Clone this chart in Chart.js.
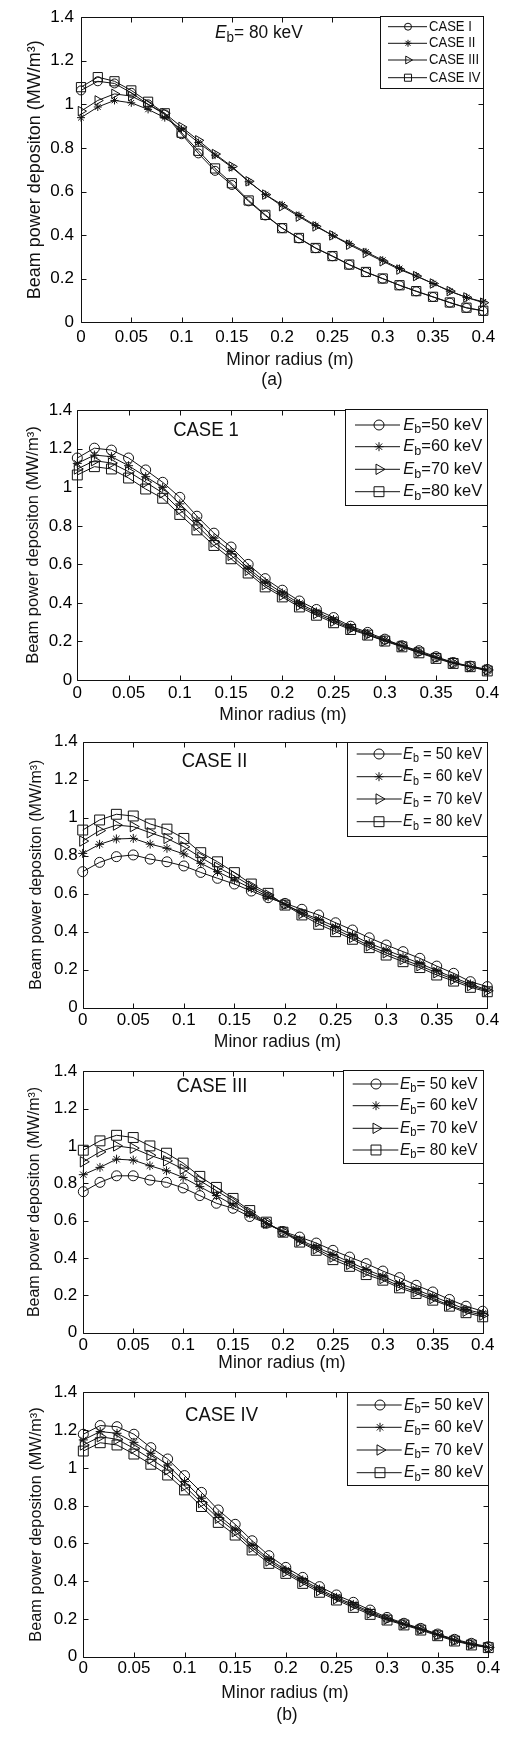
<!DOCTYPE html>
<html><head><meta charset="utf-8">
<script src="https://cdn.jsdelivr.net/npm/chart.js@4.4.0/dist/chart.umd.min.js"></script>
<style>
html,body{margin:0;padding:0;background:#fff;}
body{width:522px;height:1741px;position:relative;overflow:hidden;}
canvas{position:absolute;left:0;}
</style></head><body>
<canvas id="pa"></canvas>
<canvas id="p1"></canvas>
<canvas id="p2"></canvas>
<canvas id="p3"></canvas>
<canvas id="p4"></canvas>
<script>
// ---------- DATA ----------
const radius = [0, 0.0167, 0.0333, 0.05, 0.0667, 0.0833, 0.1, 0.1167, 0.1333, 0.15, 0.1667, 0.1833, 0.2,
  0.2167, 0.2333, 0.25, 0.2667, 0.2833, 0.3, 0.3167, 0.3333, 0.35, 0.3667, 0.3833, 0.4];

// (a) Eb = 80 keV, four cases
const caseI_80   = [1.064,1.106,1.096,1.053,1.000,0.954,0.863,0.775,0.695,0.630,0.555,0.490,0.432,0.385,0.340,0.303,0.264,0.230,0.200,0.170,0.142,0.116,0.090,0.066,0.052];
const caseII_80  = [0.939,0.988,1.018,1.007,0.977,0.939,0.886,0.825,0.767,0.711,0.645,0.586,0.539,0.490,0.444,0.399,0.361,0.323,0.285,0.247,0.213,0.178,0.143,0.114,0.094];
const caseIII_80 = [0.969,1.018,1.048,1.038,1.000,0.959,0.896,0.835,0.772,0.715,0.647,0.586,0.533,0.485,0.440,0.399,0.356,0.318,0.280,0.242,0.212,0.178,0.143,0.114,0.090];
const caseIV_80  = [1.079,1.125,1.106,1.064,1.012,0.959,0.870,0.787,0.706,0.638,0.559,0.493,0.432,0.387,0.341,0.304,0.265,0.231,0.201,0.170,0.143,0.117,0.091,0.067,0.053];

// (b) CASE 1
const case1_50 = [1.152,1.203,1.193,1.152,1.090,1.026,0.948,0.850,0.762,0.690,0.600,0.526,0.466,0.410,0.366,0.324,0.279,0.247,0.212,0.178,0.152,0.121,0.091,0.072,0.055];
const case1_60 = [1.124,1.167,1.159,1.112,1.055,1.000,0.914,0.828,0.736,0.667,0.581,0.509,0.452,0.397,0.353,0.314,0.272,0.241,0.207,0.178,0.147,0.117,0.090,0.069,0.052];
const case1_70 = [1.095,1.138,1.126,1.081,1.026,0.971,0.884,0.802,0.716,0.647,0.569,0.495,0.440,0.388,0.345,0.305,0.267,0.236,0.203,0.176,0.143,0.116,0.088,0.069,0.052];
const case1_80 = [1.064,1.107,1.095,1.048,0.991,0.943,0.859,0.779,0.698,0.629,0.555,0.483,0.431,0.379,0.336,0.297,0.262,0.233,0.202,0.172,0.141,0.112,0.086,0.069,0.047];

// (b) CASE II
const case2_50 = [0.716,0.765,0.795,0.804,0.782,0.768,0.746,0.712,0.681,0.651,0.614,0.579,0.549,0.518,0.488,0.447,0.409,0.368,0.330,0.295,0.260,0.219,0.181,0.137,0.111];
const case2_60 = [0.812,0.860,0.888,0.891,0.861,0.839,0.809,0.760,0.716,0.672,0.628,0.584,0.544,0.500,0.465,0.426,0.382,0.339,0.304,0.268,0.233,0.195,0.158,0.125,0.093];
const case2_70 = [0.877,0.932,0.961,0.953,0.921,0.891,0.847,0.791,0.739,0.693,0.640,0.593,0.544,0.496,0.453,0.412,0.370,0.326,0.289,0.254,0.221,0.184,0.149,0.116,0.089];
const case2_80 = [0.935,0.988,1.018,1.009,0.967,0.940,0.891,0.816,0.768,0.711,0.651,0.602,0.540,0.488,0.439,0.400,0.360,0.316,0.277,0.242,0.211,0.172,0.140,0.107,0.084];

// (b) CASE III
const case3_50 = [0.755,0.805,0.840,0.840,0.817,0.805,0.775,0.734,0.693,0.666,0.622,0.586,0.542,0.512,0.480,0.441,0.405,0.370,0.330,0.295,0.254,0.218,0.178,0.142,0.115];
const case3_60 = [0.846,0.885,0.929,0.924,0.894,0.867,0.831,0.782,0.734,0.684,0.636,0.583,0.542,0.497,0.458,0.419,0.378,0.339,0.302,0.263,0.231,0.195,0.160,0.124,0.103];
const case3_70 = [0.915,0.968,1.000,0.988,0.950,0.920,0.876,0.814,0.760,0.707,0.645,0.586,0.542,0.490,0.449,0.405,0.366,0.325,0.290,0.250,0.219,0.183,0.147,0.115,0.094];
const case3_80 = [0.977,1.027,1.057,1.045,1.000,0.961,0.908,0.837,0.778,0.719,0.654,0.592,0.538,0.485,0.441,0.391,0.355,0.311,0.281,0.240,0.210,0.174,0.142,0.107,0.085];

// (b) CASE IV
const case4_50 = [1.178,1.224,1.218,1.178,1.107,1.047,0.959,0.870,0.777,0.701,0.614,0.535,0.473,0.420,0.371,0.327,0.288,0.247,0.208,0.177,0.150,0.120,0.092,0.071,0.053];
const case4_60 = [1.148,1.192,1.183,1.135,1.077,1.015,0.927,0.839,0.750,0.676,0.591,0.517,0.459,0.406,0.358,0.314,0.277,0.238,0.203,0.173,0.147,0.118,0.088,0.067,0.049];
const case4_70 = [1.121,1.165,1.151,1.103,1.047,0.989,0.904,0.816,0.733,0.662,0.579,0.507,0.450,0.397,0.350,0.307,0.270,0.231,0.199,0.171,0.145,0.115,0.087,0.065,0.049];
const case4_80 = [1.089,1.133,1.121,1.073,1.019,0.962,0.883,0.795,0.711,0.644,0.565,0.494,0.441,0.388,0.341,0.300,0.261,0.224,0.194,0.168,0.141,0.111,0.083,0.062,0.048];

const xTickValues = [0, 0.05, 0.1, 0.15, 0.2, 0.25, 0.3, 0.35, 0.4];
const xTickLabels = ['0','0.05','0.1','0.15','0.2','0.25','0.3','0.35','0.4'];
const yTickValues = [0, 0.2, 0.4, 0.6, 0.8, 1, 1.2, 1.4];
const yTickLabels = ['0','0.2','0.4','0.6','0.8','1','1.2','1.4'];

const caseLegend = ['CASE I','CASE II','CASE III','CASE IV'];
const energyLegend = ['50 keV','60 keV','70 keV','80 keV'];
const panelTitles = ['CASE 1','CASE II','CASE III','CASE IV'];
const xAxisTitle = 'Minor radius (m)';
const yAxisTitle = 'Beam power depositon (MW/m\u00B3)';

// ---------- STYLE / LAYOUT ----------
const FONT = "'Liberation Sans', Arial, Helvetica, sans-serif";
const INK = '#111';
const W = 522;
const STYLES = [
  {ps:'circle', rot:0},
  {ps:'star', rot:0},
  {ps:'triangle', rot:90},
  {ps:'rect', rot:0}
];

function fontStr(size, italic){ return (italic?'italic ':'') + size + 'px ' + FONT; }

function drawParts(ctx, parts, x, y, align, sx){
  sx = sx || 1;
  let w = 0;
  parts.forEach(p => { ctx.font = fontStr(p.size, p.italic); p.w = ctx.measureText(p.t).width; w += p.w; });
  let cx = align === 'center' ? x - w*sx/2 : x;
  ctx.textAlign = 'left'; ctx.textBaseline = 'middle'; ctx.fillStyle = INK;
  parts.forEach(p => {
    ctx.font = fontStr(p.size, p.italic);
    ctx.save(); ctx.translate(cx, y + (p.dy||0)); ctx.scale(sx, 1);
    ctx.fillText(p.t, 0, 0); ctx.restore();
    cx += p.w * sx;
  });
}
function ebParts(size, rest){
  return [{t:'E', size:size, italic:true}, {t:'b', size:Math.round(size*0.75), dy:size*0.28}, {t:rest, size:size}];
}

function makeDeco(cfg){
  return {
    id: 'deco',
    afterDatasetsDraw(chart){
      const ctx = chart.ctx, ca = chart.chartArea, T = cfg.canvasTop;
      const xs = chart.scales.x, ys = chart.scales.y;
      ctx.save();
      ctx.strokeStyle = INK; ctx.lineWidth = 1;
      const L = Math.round(ca.left)+0.5, R = Math.round(ca.right)+0.5, Tp = Math.round(ca.top)+0.5, B = Math.round(ca.bottom)+0.5;
      ctx.beginPath();
      ctx.rect(L, Tp, R-L, B-Tp);
      xs.ticks.forEach(t => {
        const px = Math.round(xs.getPixelForValue(t.value))+0.5;
        ctx.moveTo(px, B); ctx.lineTo(px, B-5);
        ctx.moveTo(px, Tp); ctx.lineTo(px, Tp+5);
      });
      ys.ticks.forEach(t => {
        const py = Math.round(ys.getPixelForValue(t.value))+0.5;
        ctx.moveTo(L, py); ctx.lineTo(L+5, py);
        ctx.moveTo(R, py); ctx.lineTo(R-5, py);
      });
      ctx.stroke();

      // axis titles
      ctx.fillStyle = INK;
      ctx.save();
      ctx.translate(cfg.yTitle.x, (ca.top+ca.bottom)/2);
      ctx.rotate(-Math.PI/2);
      ctx.font = fontStr(cfg.yTitle.size); ctx.textAlign='center'; ctx.textBaseline='middle';
      ctx.fillText(yAxisTitle, 0, 0);
      ctx.restore();
      drawParts(ctx, [{t:xAxisTitle, size:cfg.xTitle.size}], cfg.xTitle.x, cfg.xTitle.y - T, 'center', cfg.xTitle.sx);
      if (cfg.caption) drawParts(ctx, [{t:cfg.caption.t, size:cfg.caption.size}], cfg.caption.x, cfg.caption.y - T, 'center', 1);

      // annotation
      const an = cfg.ann;
      if (an.eb) drawParts(ctx, ebParts(an.size, an.t), an.x, an.y - T, 'left', an.sx);
      else drawParts(ctx, [{t:an.t, size:an.size}], an.x, an.y - T, 'center', an.sx);

      // legend
      const lg = cfg.legend;
      ctx.fillStyle = '#fff';
      const bl = Math.round(lg.l)+0.5, br = Math.round(lg.r)+0.5, bt = Math.round(lg.t - T)+0.5, bb = Math.round(lg.b - T)+0.5;
      ctx.fillRect(bl, bt, br-bl, bb-bt);
      ctx.strokeStyle = INK; ctx.lineWidth = 1;
      ctx.strokeRect(bl, bt, br-bl, bb-bt);
      lg.rows.forEach((ry, i) => {
        const y = ry - T;
        ctx.strokeStyle = INK; ctx.lineWidth = 1;
        ctx.beginPath(); ctx.moveTo(lg.x0, y); ctx.lineTo(lg.x1, y); ctx.stroke();
        ctx.fillStyle = 'rgba(0,0,0,0)';
        Chart.helpers.drawPoint(ctx, {pointStyle: STYLES[i].ps, rotation: STYLES[i].rot, radius: lg.mr[i], borderWidth: 1}, lg.mx, y);
        if (lg.eb) drawParts(ctx, ebParts(lg.size, lg.eq + energyLegend[i]), lg.tx, y, 'left', lg.sx);
        else drawParts(ctx, [{t:caseLegend[i], size:lg.size}], lg.tx, y, 'left', lg.sx);
      });
      ctx.restore();
    }
  };
}

function ds(label, values, i, radii){
  return {
    label: label,
    data: radius.map((r, k) => ({x: r, y: values[k]})),
    borderColor: INK, borderWidth: 1, tension: 0, fill: false, clip: false,
    pointStyle: STYLES[i].ps, pointRotation: STYLES[i].rot, pointRadius: radii[i],
    pointBorderWidth: 1, pointBorderColor: INK, pointBackgroundColor: 'rgba(0,0,0,0)',
    pointHoverRadius: radii[i]
  };
}

const WY = 50, HX = 30;
function build(id, cfg, datasets){
  const cv = document.getElementById(id);
  cv.width = W; cv.height = cfg.canvasH;
  cv.style.top = cfg.canvasTop + 'px';
  cv.style.width = W + 'px'; cv.style.height = cfg.canvasH + 'px';
  const p = cfg.plot;
  new Chart(cv, {
    type: 'line',
    data: { datasets: datasets },
    options: {
      responsive: false, animation: false, devicePixelRatio: 1,
      layout: { padding: { left: p.l - WY, right: W - p.r, top: p.t - cfg.canvasTop, bottom: cfg.canvasTop + cfg.canvasH - p.b - HX } },
      plugins: { legend: {display: false}, tooltip: {enabled: false}, title: {display: false} },
      scales: {
        x: {
          type: 'linear', min: 0, max: 0.4,
          grid: {display: false, drawTicks: false}, border: {display: false},
          afterFit: s => { s.height = HX; },
          afterBuildTicks: s => { s.ticks = xTickValues.map(v => ({value: v})); },
          ticks: { autoSkip: false, maxRotation: 0, minRotation: 0, padding: cfg.xPad, color: '#000',
                   font: {family: FONT, size: 17}, callback: (v, i) => xTickLabels[i] }
        },
        y: {
          type: 'linear', min: 0, max: 1.4,
          grid: {display: false, drawTicks: false}, border: {display: false},
          afterFit: s => { s.width = WY; },
          afterBuildTicks: s => { s.ticks = yTickValues.map(v => ({value: v})); },
          ticks: { autoSkip: false, padding: cfg.yPad, color: '#000',
                   font: {family: FONT, size: 17}, callback: (v, i) => yTickLabels[i] }
        }
      }
    },
    plugins: [makeDeco(cfg)]
  });
}

const rA = [4.5, 4, 5.5, 6.5];
const rB = [5, 4.5, 6, 7];
const rLA = [3.5, 3.5, 4.5, 5];
const rLB = [5, 4.5, 6, 7];

build('pa', {
  canvasTop: 0, canvasH: 395, plot: {l:81, r:483.3, t:15.7, b:322.3}, xPad: 4.5, yPad: 7,
  yTitle: {x:35, size:18}, xTitle: {x:290, y:360, size:17.5}, caption: {t:'(a)', x:272, y:380, size:17.5},
  ann: {eb:true, t:'= 80 keV', x:215, y:33, size:18, sx:0.96},
  legend: {l:379.5, r:483.3, t:15.7, b:88, rows:[26.7,43.3,60,77.7], x0:388, x1:427, mx:408, tx:429, size:14.5, sx:0.9, mr:rLA, eb:false}
}, [ds('CASE I', caseI_80, 0, rA), ds('CASE II', caseII_80, 1, rA), ds('CASE III', caseIII_80, 2, rA), ds('CASE IV', caseIV_80, 3, rA)]);

build('p1', {
  canvasTop: 395, canvasH: 330, plot: {l:77.3, r:487.3, t:409.3, b:680}, xPad: 3, yPad: 5,
  yTitle: {x:33, size:16.5}, xTitle: {x:283, y:715, size:17.5},
  ann: {eb:false, t:panelTitles[0], x:206, y:430.7, size:21, sx:0.88},
  legend: {l:345, r:487.3, t:409.3, b:505, rows:[425,446.7,469.3,491.7], x0:355, x1:400, mx:379, tx:403.3, size:17, sx:0.97, mr:rLB, eb:true, eq:'='}
}, [ds('50', case1_50, 0, rB), ds('60', case1_60, 1, rB), ds('70', case1_70, 2, rB), ds('80', case1_80, 3, rB)]);

build('p2', {
  canvasTop: 725, canvasH: 330, plot: {l:82.7, r:487.3, t:741.7, b:1007.7}, xPad: 2, yPad: 5,
  yTitle: {x:36.7, size:16}, xTitle: {x:277.5, y:1042, size:17.5},
  ann: {eb:false, t:panelTitles[1], x:214.5, y:761.7, size:21, sx:0.88},
  legend: {l:346.7, r:487.3, t:741.7, b:836, rows:[754,776.7,799,821.7], x0:356.7, x1:401.7, mx:379, tx:403, size:16.5, sx:0.9, mr:rLB, eb:true, eq:' = '}
}, [ds('50', case2_50, 0, rB), ds('60', case2_60, 1, rB), ds('70', case2_70, 2, rB), ds('80', case2_80, 3, rB)]);

build('p3', {
  canvasTop: 1055, canvasH: 320, plot: {l:83.3, r:482.7, t:1070, b:1332.7}, xPad: 2, yPad: 6,
  yTitle: {x:35, size:16}, xTitle: {x:282, y:1363, size:17.5},
  ann: {eb:false, t:panelTitles[2], x:212, y:1086.7, size:21, sx:0.88},
  legend: {l:343.3, r:482.7, t:1070, b:1162.7, rows:[1084,1105.7,1128.3,1150], x0:352.7, x1:398.3, mx:376, tx:400, size:16.5, sx:0.93, mr:rLB, eb:true, eq:'= '}
}, [ds('50', case3_50, 0, rB), ds('60', case3_60, 1, rB), ds('70', case3_70, 2, rB), ds('80', case3_80, 3, rB)]);

build('p4', {
  canvasTop: 1375, canvasH: 366, plot: {l:83.3, r:488.3, t:1392.3, b:1656.7}, xPad: 1.5, yPad: 6,
  yTitle: {x:37, size:16.3}, xTitle: {x:285, y:1693, size:17.5}, caption: {t:'(b)', x:287, y:1715, size:17.5},
  ann: {eb:false, t:panelTitles[3], x:221.5, y:1415, size:21, sx:0.88},
  legend: {l:347.3, r:488.3, t:1392.3, b:1485, rows:[1405,1427.3,1450,1472.7], x0:356.7, x1:401.7, mx:380, tx:404, size:16.5, sx:0.95, mr:rLB, eb:true, eq:'= '}
}, [ds('50', case4_50, 0, rB), ds('60', case4_60, 1, rB), ds('70', case4_70, 2, rB), ds('80', case4_80, 3, rB)]);
</script>
</body></html>
